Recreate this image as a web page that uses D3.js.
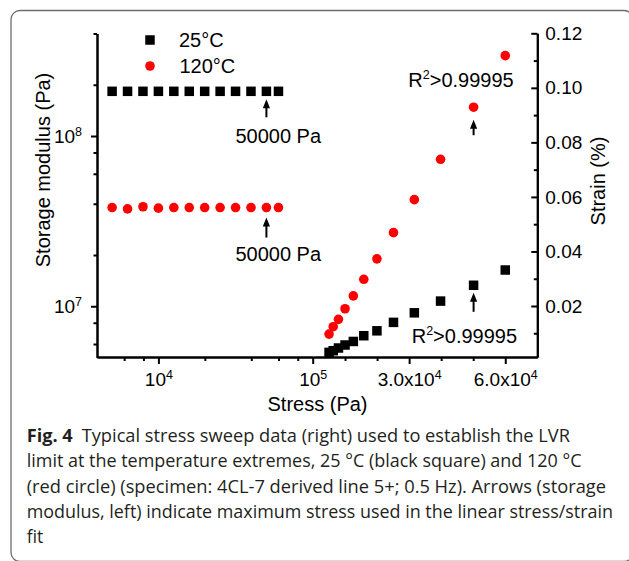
<!DOCTYPE html>
<html>
<head>
<meta charset="utf-8">
<script src="https://cdn.jsdelivr.net/npm/d3@7"></script>
<style>
  html, body { margin: 0; padding: 0; background: #fff; }
  svg { display: block; }
  .ax text { font-family: "Liberation Sans", Arial, sans-serif; }
</style>
</head>
<body>
<svg id="chart" width="629" height="561"></svg>
<script>
// ---------------- data ----------------
const stress = [5012, 6310, 7943, 10000, 12589, 15849, 19953, 25119, 31623, 39811, 50119, 60000];
const modulus25 = [1.83e8, 1.83e8, 1.83e8, 1.83e8, 1.83e8, 1.83e8, 1.83e8, 1.83e8, 1.83e8, 1.83e8, 1.83e8, 1.83e8];
const modulus120 = [3.80e7, 3.73e7, 3.84e7, 3.77e7, 3.80e7, 3.80e7, 3.80e7, 3.80e7, 3.80e7, 3.80e7, 3.80e7, 3.80e7];
const strain25 = [0.0030, 0.0036, 0.0046, 0.0057, 0.0070, 0.0091, 0.0109, 0.0140, 0.0175, 0.0218, 0.0276, 0.0332];
const strain120 = [0.0097, 0.0124, 0.0151, 0.0190, 0.0237, 0.0298, 0.0373, 0.0469, 0.0590, 0.0738, 0.0929, 0.1118];
const seriesNames = ["25\u00B0C", "120\u00B0C"];
const seriesColors = ["#000000", "#ff0000"];
const leftYMajor = [1e7, 1e8];
const leftYMinor = [6e6, 8e6, 2e7, 4e7, 6e7, 8e7, 2e8, 4e8];
const leftXMajor = [1e4, 1e5];
const leftXMinor = [6000, 8000, 2e4, 4e4, 6e4, 8e4];
const rightXMajor = [3e4, 6e4];
const rightXMinor = [1e4, 2e4, 4e4, 5e4];
const rightYMajor = [0.02, 0.04, 0.06, 0.08, 0.10, 0.12];
const rightYMinor = [0.01, 0.03, 0.05, 0.07, 0.09, 0.11];
const fitStress = 50000;
const annotLabel = "50000 Pa";
const r2Label = ">0.99995";
const captionLines = [
  ["Fig. 4", "Typical stress sweep data (right) used to establish the LVR"],
  ["", "limit at the temperature extremes, 25\u00A0\u00B0C (black square) and 120\u00A0\u00B0C"],
  ["", "(red circle) (specimen: 4CL-7 derived line 5+; 0.5 Hz). Arrows (storage"],
  ["", "modulus, left) indicate maximum stress used in the linear stress/strain"],
  ["", "fit"]
];

// ---------------- setup ----------------
const svg = d3.select("#chart");
const FONT = '"Liberation Sans", Arial, sans-serif';

// frame
svg.append("rect")
  .attr("x", 11).attr("y", 10.5).attr("width", 622).attr("height", 551)
  .attr("rx", 9).attr("ry", 9)
  .attr("fill", "none").attr("stroke", "#6e6e6e").attr("stroke-width", 1.3);

const axisBottomY = 357;
const xLog = d3.scaleLog().domain([4000, 1e5]).range([97, 312.7]);
const yLog = d3.scaleLog().domain([5e6, 4e8]).range([357.5, 33.5]);
const xLin = d3.scaleLinear().domain([0, 7e4]).range([313, 537.3]);
const yLin = d3.scaleLinear().domain([0.0013, 0.12]).range([357, 33.3]);

function supLabel(sel, base, exp, supSize, dyUp) {
  sel.text(null);
  sel.append("tspan").text(base);
  sel.append("tspan").attr("font-size", supSize).attr("dy", -dyUp).text(exp);
}

function styleAxis(g) {
  g.selectAll("path.domain").attr("stroke", "#000").attr("stroke-width", 2);
  g.selectAll(".tick line").attr("stroke", "#000").attr("stroke-width", 2);
  g.selectAll("text").attr("font-family", FONT).attr("font-size", 19).attr("fill", "#000");
}

// left y axis (log)
const gLY = svg.append("g").attr("class", "ax").attr("transform", "translate(97,0)");
gLY.call(d3.axisLeft(yLog).tickValues(leftYMajor).tickSizeInner(6).tickSizeOuter(0).tickPadding(9).tickFormat(d => ""));
styleAxis(gLY);
gLY.selectAll(".tick text").each(function(d) {
  const e = Math.round(Math.log10(d));
  supLabel(d3.select(this), "10", String(e), 12.5, 7);
});
const gLYm = svg.append("g").attr("class", "ax").attr("transform", "translate(97,0)");
gLYm.call(d3.axisLeft(yLog).tickValues(leftYMinor).tickSizeInner(3.5).tickSizeOuter(0).tickFormat(""));
styleAxis(gLYm);

// left x axis (log)
const gLX = svg.append("g").attr("class", "ax").attr("transform", `translate(0,${axisBottomY})`);
gLX.call(d3.axisBottom(xLog).tickValues(leftXMajor).tickSizeInner(7).tickSizeOuter(0).tickPadding(9).tickFormat(d => ""));
styleAxis(gLX);
gLX.selectAll(".tick text").each(function(d) {
  const e = Math.round(Math.log10(d));
  supLabel(d3.select(this), "10", String(e), 12.5, 7);
});
const gLXm = svg.append("g").attr("class", "ax").attr("transform", `translate(0,${axisBottomY})`);
gLXm.call(d3.axisBottom(xLog).tickValues(leftXMinor).tickSizeInner(4).tickSizeOuter(0).tickFormat(""));
styleAxis(gLXm);

// right x axis (linear)
const gRX = svg.append("g").attr("class", "ax").attr("transform", `translate(0,${axisBottomY})`);
gRX.call(d3.axisBottom(xLin).tickValues(rightXMajor).tickSizeInner(7).tickSizeOuter(0).tickPadding(9).tickFormat(""));
styleAxis(gRX);
gRX.selectAll(".tick text").each(function(d) {
  const e = Math.floor(Math.log10(d));
  const m = (d / Math.pow(10, e)).toFixed(1);
  supLabel(d3.select(this), m + "x10", String(e), 12.5, 7);
});
const gRXm = svg.append("g").attr("class", "ax").attr("transform", `translate(0,${axisBottomY})`);
gRXm.call(d3.axisBottom(xLin).tickValues(rightXMinor).tickSizeInner(4).tickSizeOuter(0).tickFormat(""));
styleAxis(gRXm);

// right y axis (linear), ticks pointing inward
const gRY = svg.append("g").attr("class", "ax").attr("transform", "translate(537.3,0)");
gRY.call(d3.axisRight(yLin).tickValues(rightYMajor).tickSizeInner(-6).tickSizeOuter(0).tickPadding(8).tickFormat(d3.format(".2f")));
styleAxis(gRY);
const gRYm = svg.append("g").attr("class", "ax").attr("transform", "translate(537.3,0)");
gRYm.call(d3.axisRight(yLin).tickValues(rightYMinor).tickSizeInner(-3.5).tickSizeOuter(0).tickFormat(""));
styleAxis(gRYm);

// axis titles
svg.append("text")
  .attr("transform", "translate(49.5,170) rotate(-90)")
  .attr("text-anchor", "middle").attr("font-family", FONT).attr("font-size", 20)
  .text("Storage modulus (Pa)");
svg.append("text")
  .attr("transform", "translate(604.5,181) rotate(-90)")
  .attr("text-anchor", "middle").attr("font-family", FONT).attr("font-size", 20)
  .text("Strain (%)");
svg.append("text")
  .attr("x", 317.5).attr("y", 410.5)
  .attr("text-anchor", "middle").attr("font-family", FONT).attr("font-size", 20)
  .text("Stress (Pa)");

// ---------------- marks ----------------
const SQ = 9.5, CR = 4.8;
const left25 = stress.map((s, i) => ({s, v: modulus25[i]}));
const left120 = stress.map((s, i) => ({s, v: modulus120[i]}));
const right25 = stress.map((s, i) => ({s, v: strain25[i]}));
const right120 = stress.map((s, i) => ({s, v: strain120[i]}));

svg.append("g").selectAll("rect").data(left25).join("rect")
  .attr("x", d => xLog(d.s) - SQ / 2).attr("y", d => yLog(d.v) - SQ / 2)
  .attr("width", SQ).attr("height", SQ).attr("fill", seriesColors[0]);
svg.append("g").selectAll("circle").data(left120).join("circle")
  .attr("cx", d => xLog(d.s)).attr("cy", d => yLog(d.v)).attr("r", CR).attr("fill", seriesColors[1]);
svg.append("g").selectAll("rect").data(right25).join("rect")
  .attr("x", d => xLin(d.s) - SQ / 2).attr("y", d => yLin(d.v) - SQ / 2)
  .attr("width", SQ).attr("height", SQ).attr("fill", seriesColors[0]);
svg.append("g").selectAll("circle").data(right120).join("circle")
  .attr("cx", d => xLin(d.s)).attr("cy", d => yLin(d.v)).attr("r", CR).attr("fill", seriesColors[1]);

// legend
const legend = svg.append("g");
legend.append("rect").attr("x", 150 - SQ / 2).attr("y", 40 - SQ / 2).attr("width", SQ).attr("height", SQ).attr("fill", seriesColors[0]);
legend.append("circle").attr("cx", 150).attr("cy", 66).attr("r", CR).attr("fill", seriesColors[1]);
legend.append("text").attr("x", 179).attr("y", 47.3).attr("font-family", FONT).attr("font-size", 20).text(seriesNames[0]);
legend.append("text").attr("x", 179.5).attr("y", 73.3).attr("font-family", FONT).attr("font-size", 20).text(seriesNames[1]);

// arrows
function arrow(x, yTail, yTip) {
  const g = svg.append("g");
  g.append("line").attr("x1", x).attr("x2", x).attr("y1", yTail).attr("y2", yTip + 5)
    .attr("stroke", "#000").attr("stroke-width", 2);
  g.append("path").attr("d", `M${x},${yTip} L${x - 3.6},${yTip + 9} L${x + 3.6},${yTip + 9} Z`).attr("fill", "#000");
}
const iFit = stress.findIndex(s => Math.abs(s - fitStress) < 1000);
const ax1 = xLog(stress[iFit]);
const yS = yLog(modulus25[iFit]);
const yC = yLog(modulus120[iFit]);
arrow(ax1, yS + 26, yS + 8);
arrow(ax1, yC + 30, yC + 10);
svg.append("text").attr("x", ax1 - 31).attr("y", yS + 51.5).attr("font-family", FONT).attr("font-size", 20).text(annotLabel);
svg.append("text").attr("x", ax1 - 31).attr("y", yC + 53.5).attr("font-family", FONT).attr("font-size", 20).text(annotLabel);

const ax2 = xLin(stress[iFit]);
const yR120 = yLin(strain120[iFit]);
const yR25 = yLin(strain25[iFit]);
arrow(ax2, yR120 + 28, yR120 + 12.5);
arrow(ax2, yR25 + 26.5, yR25 + 7.5);
function r2Text(x, y) {
  const t = svg.append("text").attr("x", x).attr("y", y).attr("font-family", FONT).attr("font-size", 20);
  t.append("tspan").text("R");
  t.append("tspan").attr("font-size", 12.5).attr("dy", -8).text("2");
  t.append("tspan").attr("dy", 8).text(r2Label);
}
r2Text(408.3, yR120 - 20);
r2Text(411.7, yR25 + 58);

// ---------------- caption ----------------
const CAP = '"Open Sans", "Noto Sans", sans-serif';
const capBase = [441.7, 467.3, 492.6, 518, 543.4];
const capEnds = [570, 581.5, 606, 613, null];
captionLines.forEach((ln, i) => {
  let x0 = 26.7;
  if (ln[0]) {
    svg.append("text").attr("x", 26.7).attr("y", capBase[i])
      .attr("font-family", CAP).attr("font-size", 17.5).attr("font-weight", 700).attr("fill", "#231f20")
      .attr("textLength", 46).attr("lengthAdjust", "spacingAndGlyphs")
      .text(ln[0]);
    x0 = 81.7;
  }
  const t = svg.append("text").attr("x", x0).attr("y", capBase[i])
    .attr("font-family", CAP).attr("font-size", 17.5).attr("fill", "#231f20")
    .text(ln[1]);
  if (capEnds[i]) t.attr("textLength", capEnds[i] - x0).attr("lengthAdjust", "spacingAndGlyphs");
});
</script>
</body>
</html>
